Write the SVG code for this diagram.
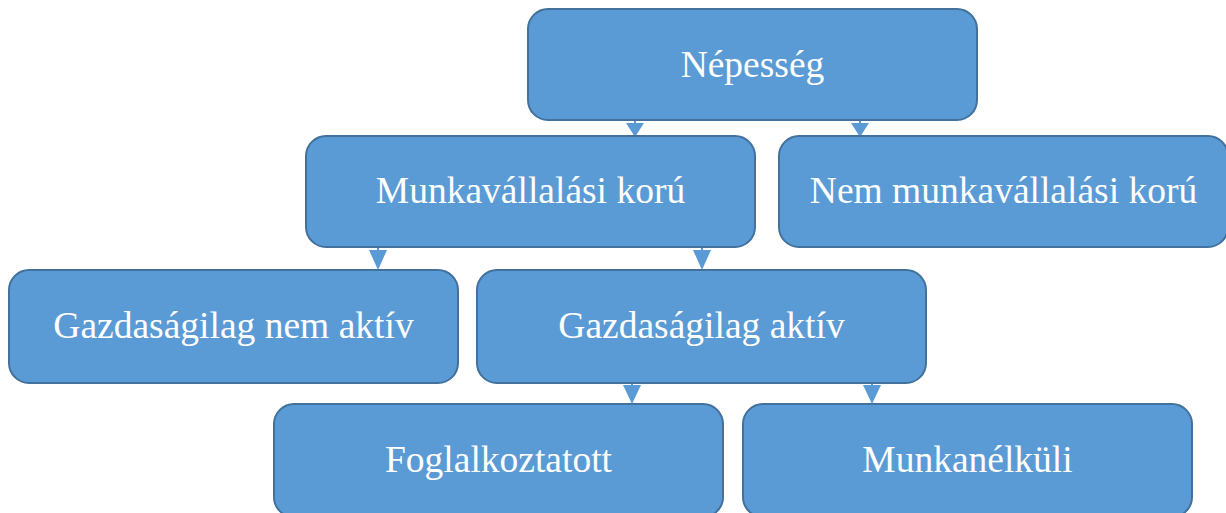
<svg xmlns="http://www.w3.org/2000/svg" width="1226" height="513" viewBox="0 0 1226 513">
<defs>
<style>
.box{fill:#5B9BD5;stroke:#41719C;stroke-width:2}
.lbl{fill:#FFFFFF;font-family:"Liberation Serif","Times New Roman",serif;font-size:37.5px;text-anchor:middle}
.ln{stroke:#5B9BD5;stroke-width:2;fill:none}
.ah{fill:#5B9BD5}
</style>
</defs>
<rect width="1226" height="513" fill="#FFFFFF"/>
<g id="connectors">
<line class="ln" x1="635" y1="120" x2="635" y2="126"/><polygon class="ah" points="626,123 644,123 635,137"/>
<line class="ln" x1="860" y1="120" x2="860" y2="126"/><polygon class="ah" points="851,123 869,123 860,137"/>
<line class="ln" x1="378" y1="247" x2="378" y2="254"/><polygon class="ah" points="369,250 387,250 378,270"/>
<line class="ln" x1="702" y1="247" x2="702" y2="254"/><polygon class="ah" points="693,250 711,250 702,270"/>
<line class="ln" x1="632" y1="383" x2="632" y2="388"/><polygon class="ah" points="623,385 641,385 632,404"/>
<line class="ln" x1="872" y1="383" x2="872" y2="388"/><polygon class="ah" points="863,385 881,385 872,404"/>
</g>
<g id="nepesseg"><rect class="box" x="528" y="9" width="449" height="111" rx="20"/><text class="lbl" x="752.5" y="77">Népesség</text></g>
<g id="munkavallalasi"><rect class="box" x="306" y="136" width="449" height="111" rx="20"/><text class="lbl" x="530.5" y="203">Munkavállalási korú</text></g>
<g id="nem-munkavallalasi"><rect class="box" x="779" y="136" width="449" height="111" rx="20"/><text class="lbl" x="1003.5" y="203">Nem munkavállalási korú</text></g>
<g id="nem-aktiv"><rect class="box" x="9" y="270" width="449" height="113" rx="20"/><text class="lbl" x="233.5" y="338">Gazdaságilag nem aktív</text></g>
<g id="aktiv"><rect class="box" x="477" y="270" width="449" height="113" rx="20"/><text class="lbl" x="701.5" y="338">Gazdaságilag aktív</text></g>
<g id="foglalkoztatott"><rect class="box" x="274" y="404" width="449" height="113" rx="20"/><text class="lbl" x="498.5" y="472">Foglalkoztatott</text></g>
<g id="munkanelkuli"><rect class="box" x="743" y="404" width="449" height="113" rx="20"/><text class="lbl" x="967.5" y="472">Munkanélküli</text></g>
</svg>
